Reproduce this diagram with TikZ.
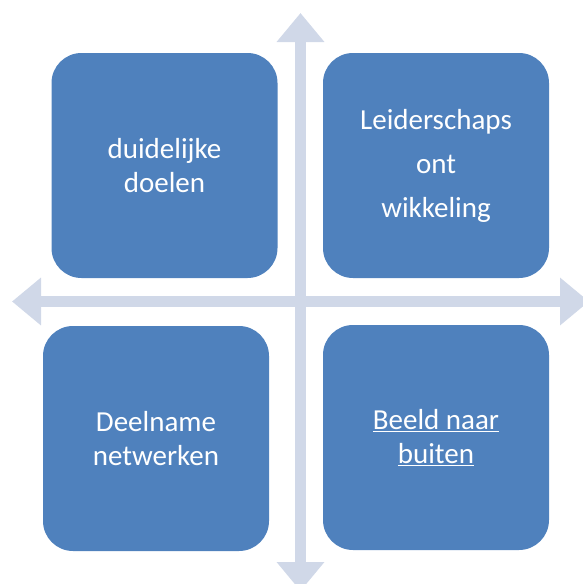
\documentclass[tikz,border=0pt]{standalone}
\usepackage{fontspec}
\setmainfont{Carlito}
\usetikzlibrary{arrows.meta}
\definecolor{tileblue}{HTML}{4F81BD}
\definecolor{axisgrey}{HTML}{D0D8E8}

\begin{document}
\begin{tikzpicture}[
    x=1pt, y=-1pt,
    tile/.style={rectangle, rounded corners=30pt, fill=tileblue,
      minimum width=226pt, minimum height=225pt, inner sep=0pt,
      align=center, text=white, font=\fontsize{29}{34}\selectfont},
    axis/.style={draw=axisgrey, line width=11pt,
      {Triangle[width=46pt,length=29pt]}-{Triangle[width=46pt,length=29pt]}}
  ]
  \clip (0,0) rectangle (583,584);

  % --- Axes ---
  \coordinate (north) at (300.5,13);
  \coordinate (south) at (300.5,591);
  \coordinate (west) at (12,301.5);
  \coordinate (east) at (589,301.5);
  \draw[axis] (north) -- (south);
  \draw[axis] (west) -- (east);

  % --- Quadrants ---
  \node[tile] (doelen) at (164.5,165.5) {duidelijke\\doelen};
  \node[tile, font=\fontsize{29}{44}\selectfont] (leiderschap) at (436,165.5)
    {Leiderschaps\\ont\\wikkeling};
  \node[tile] (netwerken) at (156,438.5) {Deelname\\netwerken};
  \node[tile] (beeld) at (436,437.5) {\underline{Beeld naar}\\\underline{buiten}};
\end{tikzpicture}
\end{document}
